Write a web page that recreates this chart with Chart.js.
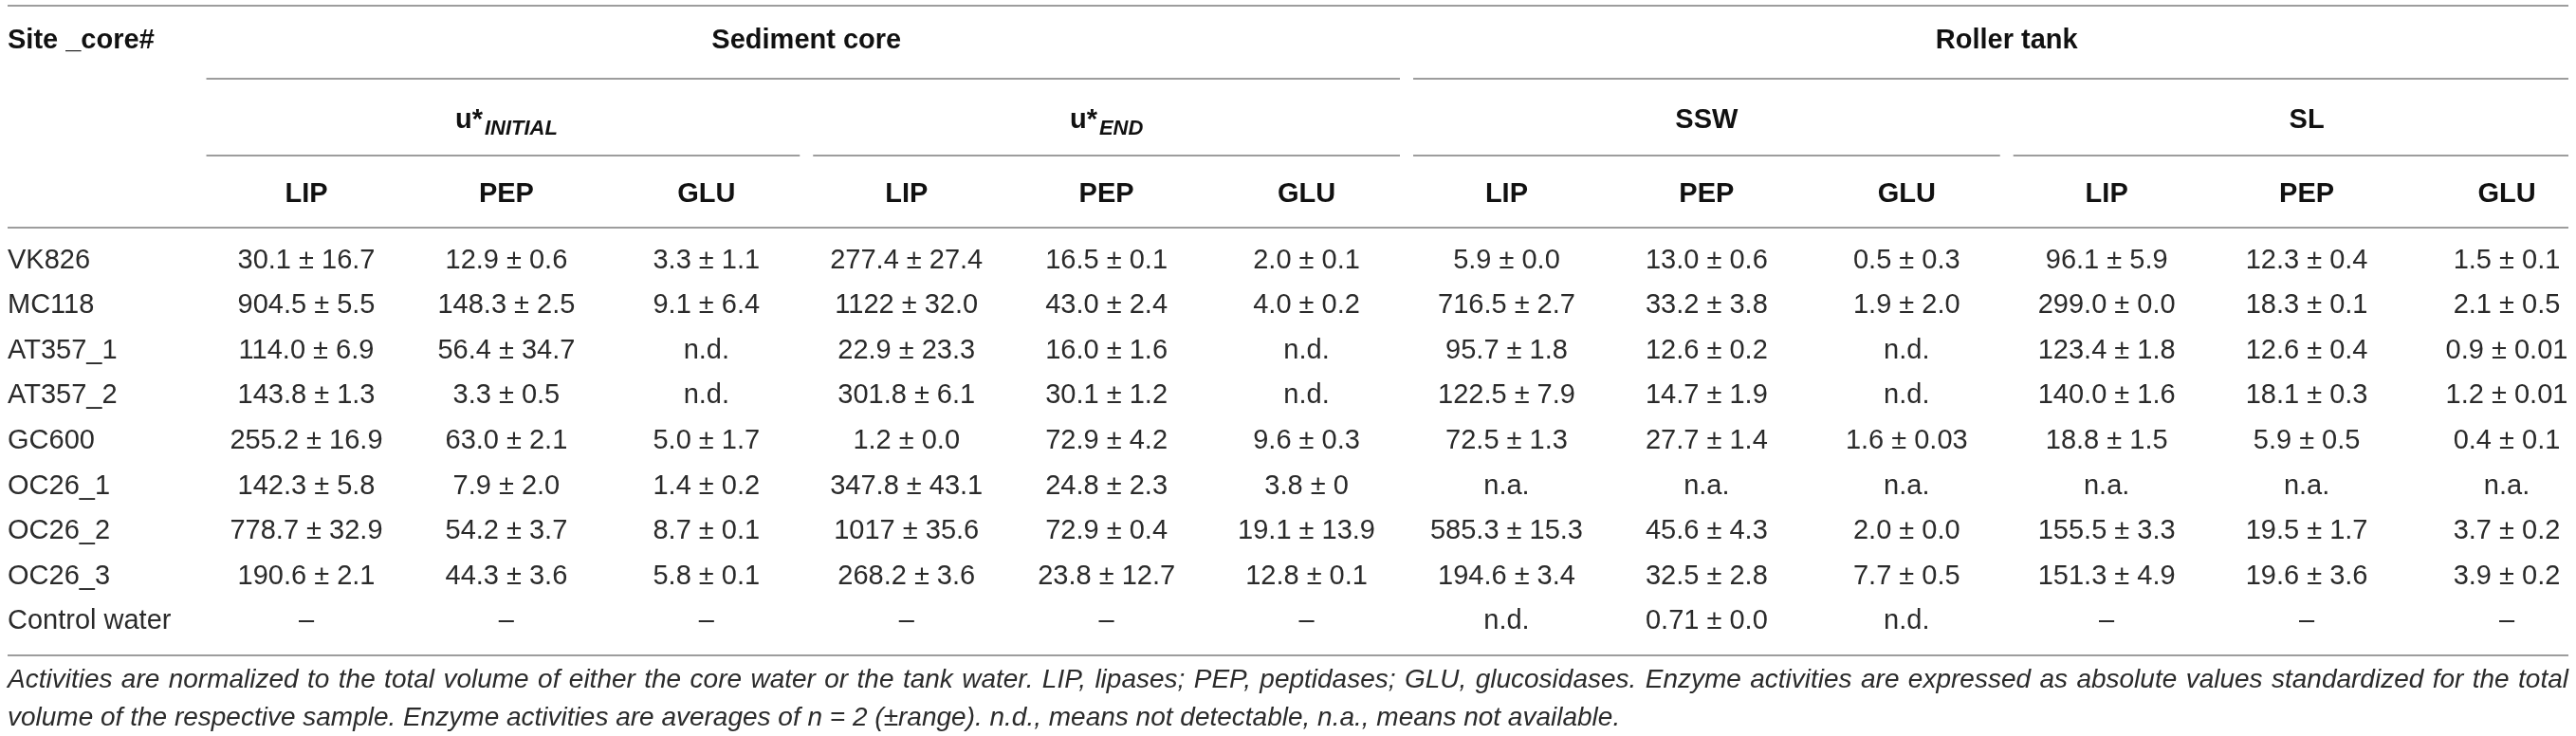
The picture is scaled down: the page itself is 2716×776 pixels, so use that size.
<!DOCTYPE html>
<html>
<head>
<meta charset="utf-8">
<script src="https://cdn.jsdelivr.net/npm/chart.js@4.4.1/dist/chart.umd.min.js"></script>
<style>
  html, body { margin: 0; padding: 0; background: #ffffff; }
  #wrap { width: 2716px; height: 776px; }
</style>
</head>
<body>
<div id="wrap"><canvas id="tableChart" width="2716" height="776"></canvas></div>
<script>
// ----------------------------------------------------------
// Datos de la tabla
// ----------------------------------------------------------
const siteHeader = "Site _core#";
const sites = ["VK826", "MC118", "AT357_1", "AT357_2", "GC600", "OC26_1", "OC26_2", "OC26_3", "Control water"];
const setupNames = ["Sediment core", "Roller tank"];
const treatmentNames = ["u*", "u*", "SSW", "SL"];
const treatmentSubs = ["INITIAL", "END", "", ""];
const enzymes = ["LIP", "PEP", "GLU"];

const initialLip = ["30.1 ± 16.7", "904.5 ± 5.5", "114.0 ± 6.9", "143.8 ± 1.3", "255.2 ± 16.9", "142.3 ± 5.8", "778.7 ± 32.9", "190.6 ± 2.1", "–"];
const initialPep = ["12.9 ± 0.6", "148.3 ± 2.5", "56.4 ± 34.7", "3.3 ± 0.5", "63.0 ± 2.1", "7.9 ± 2.0", "54.2 ± 3.7", "44.3 ± 3.6", "–"];
const initialGlu = ["3.3 ± 1.1", "9.1 ± 6.4", "n.d.", "n.d.", "5.0 ± 1.7", "1.4 ± 0.2", "8.7 ± 0.1", "5.8 ± 0.1", "–"];
const endLip = ["277.4 ± 27.4", "1122 ± 32.0", "22.9 ± 23.3", "301.8 ± 6.1", "1.2 ± 0.0", "347.8 ± 43.1", "1017 ± 35.6", "268.2 ± 3.6", "–"];
const endPep = ["16.5 ± 0.1", "43.0 ± 2.4", "16.0 ± 1.6", "30.1 ± 1.2", "72.9 ± 4.2", "24.8 ± 2.3", "72.9 ± 0.4", "23.8 ± 12.7", "–"];
const endGlu = ["2.0 ± 0.1", "4.0 ± 0.2", "n.d.", "n.d.", "9.6 ± 0.3", "3.8 ± 0", "19.1 ± 13.9", "12.8 ± 0.1", "–"];
const sswLip = ["5.9 ± 0.0", "716.5 ± 2.7", "95.7 ± 1.8", "122.5 ± 7.9", "72.5 ± 1.3", "n.a.", "585.3 ± 15.3", "194.6 ± 3.4", "n.d."];
const sswPep = ["13.0 ± 0.6", "33.2 ± 3.8", "12.6 ± 0.2", "14.7 ± 1.9", "27.7 ± 1.4", "n.a.", "45.6 ± 4.3", "32.5 ± 2.8", "0.71 ± 0.0"];
const sswGlu = ["0.5 ± 0.3", "1.9 ± 2.0", "n.d.", "n.d.", "1.6 ± 0.03", "n.a.", "2.0 ± 0.0", "7.7 ± 0.5", "n.d."];
const slLip = ["96.1 ± 5.9", "299.0 ± 0.0", "123.4 ± 1.8", "140.0 ± 1.6", "18.8 ± 1.5", "n.a.", "155.5 ± 3.3", "151.3 ± 4.9", "–"];
const slPep = ["12.3 ± 0.4", "18.3 ± 0.1", "12.6 ± 0.4", "18.1 ± 0.3", "5.9 ± 0.5", "n.a.", "19.5 ± 1.7", "19.6 ± 3.6", "–"];
const slGlu = ["1.5 ± 0.1", "2.1 ± 0.5", "0.9 ± 0.01", "1.2 ± 0.01", "0.4 ± 0.1", "n.a.", "3.7 ± 0.2", "3.9 ± 0.2", "–"];

const footnoteLines = [
    "Activities are normalized to the total volume of either the core water or the tank water. LIP, lipases; PEP, peptidases; GLU, glucosidases. Enzyme activities are expressed as absolute values standardized for the total",
    "volume of the respective sample. Enzyme activities are averages of n = 2 (±range). n.d., means not detectable, n.a., means not available."
];

// ----------------------------------------------------------
// Estilos y medidas del dibujo
// ----------------------------------------------------------
const FONT = '"Liberation Sans", Arial, Helvetica, sans-serif';
const FONT_SIZE = 29;
const TEXT_COLOR = "#2a2a2a";
const HEAD_COLOR = "#111111";
const RULE_COLOR = "#9d9d9d";
const RULE_WIDTH = 2;
const TOP_RULE_Y = 6;
const SETUP_TEXT_Y = 43;
const SETUP_RULE_Y = 83;
const TREAT_TEXT_Y = 127;
const TREAT_RULE_Y = 164;
const HEAD_RULE_GAP = 11;   // regla bajo LIP/PEP/GLU, por encima del área
const FOOT_RULE_GAP = 12;   // regla final, por debajo del área
const FOOT_LINE_1 = 38;     // distancia de las líneas de nota al área
const FOOT_LINE_2 = 78;
const SPAN_GAP = 7;
const EDGE = 8;

// Columnas: una por combinación tratamiento x enzima
const columns = [initialLip, initialPep, initialGlu, endLip, endPep, endGlu, sswLip, sswPep, sswGlu, slLip, slPep, slGlu];
const columnKeys = [];
treatmentNames.forEach((name, t) => {
    enzymes.forEach(enz => columnKeys.push(name + treatmentSubs[t] + " " + enz));
});

// Una celda = un punto del scatter (posición dada por las escalas)
const cells = [];
columns.forEach((col, c) => {
    col.forEach((txt, r) => cells.push({ x: columnKeys[c], y: sites[r], text: txt }));
});

// ----------------------------------------------------------
// Funciones de dibujo auxiliares
// ----------------------------------------------------------
function hRule(ctx, x1, x2, y) {
    ctx.beginPath();
    ctx.moveTo(x1, y);
    ctx.lineTo(x2, y);
    ctx.stroke();
}

// Línea justificada: reparte el espacio sobrante entre las palabras
function fillJustified(ctx, text, x1, x2, y) {
    const words = text.split(" ");
    const wordsWidth = words.reduce((s, w) => s + ctx.measureText(w).width, 0);
    const gap = (x2 - x1 - wordsWidth) / (words.length - 1);
    let x = x1;
    words.forEach(w => {
        ctx.fillText(w, x, y);
        x += ctx.measureText(w).width + gap;
    });
}

const tablePlugin = {
    id: "tableText",
    afterDatasetsDraw(chart) {
        const ctx = chart.ctx;
        const meta = chart.getDatasetMeta(0);
        ctx.save();
        ctx.font = FONT_SIZE + "px " + FONT;
        ctx.fillStyle = TEXT_COLOR;
        ctx.textAlign = "center";
        ctx.textBaseline = "middle";
        meta.data.forEach((pt, i) => {
            ctx.fillText(chart.data.datasets[0].data[i].text, pt.x, pt.y);
        });
        ctx.restore();
    },
    afterDraw(chart) {
        const ctx = chart.ctx;
        const xs = chart.scales.x;
        const area = chart.chartArea;
        const W = chart.width;
        const half = (xs.getPixelForValue(1) - xs.getPixelForValue(0)) / 2;
        const spanLeft = i => Math.max(EDGE, xs.getPixelForValue(i) - half);
        const spanRight = i => Math.min(W - EDGE, xs.getPixelForValue(i) + half);

        ctx.save();
        ctx.strokeStyle = RULE_COLOR;
        ctx.lineWidth = RULE_WIDTH;

        // Reglas completas
        hRule(ctx, EDGE, W - EDGE, TOP_RULE_Y);
        hRule(ctx, EDGE, W - EDGE, area.top - HEAD_RULE_GAP);
        hRule(ctx, EDGE, W - EDGE, area.bottom + FOOT_RULE_GAP);

        ctx.fillStyle = HEAD_COLOR;
        ctx.textBaseline = "middle";

        // Encabezado de sitio
        ctx.font = "bold " + FONT_SIZE + "px " + FONT;
        ctx.textAlign = "left";
        ctx.fillText(siteHeader, EDGE, SETUP_TEXT_Y);

        // Grupos: Sediment core / Roller tank (6 columnas cada uno)
        ctx.textAlign = "center";
        setupNames.forEach((name, g) => {
            const a = g * 6, b = g * 6 + 5;
            const x1 = spanLeft(a) + (g > 0 ? SPAN_GAP : 0);
            const x2 = spanRight(b) - (g < setupNames.length - 1 ? SPAN_GAP : 0);
            hRule(ctx, x1, x2, SETUP_RULE_Y);
            ctx.fillText(name, (xs.getPixelForValue(a) + xs.getPixelForValue(b)) / 2, SETUP_TEXT_Y);
        });

        // Tratamientos: u*INITIAL, u*END, SSW, SL (3 columnas cada uno)
        treatmentNames.forEach((name, t) => {
            const a = t * 3, b = t * 3 + 2;
            const x1 = spanLeft(a) + (t > 0 ? SPAN_GAP : 0);
            const x2 = spanRight(b) - (t < treatmentNames.length - 1 ? SPAN_GAP : 0);
            hRule(ctx, x1, x2, TREAT_RULE_Y);

            const cx = (xs.getPixelForValue(a) + xs.getPixelForValue(b)) / 2;
            const sub = treatmentSubs[t];
            const mainFont = "bold " + FONT_SIZE + "px " + FONT;
            const subFont = "italic bold 22px " + FONT;
            ctx.font = mainFont;
            const wMain = ctx.measureText(name).width;
            ctx.font = subFont;
            const wSub = sub ? ctx.measureText(sub).width + 2 : 0;
            const x0 = cx - (wMain + wSub) / 2;
            ctx.textAlign = "left";
            ctx.font = mainFont;
            ctx.fillText(name, x0, TREAT_TEXT_Y);
            if (sub) {
                ctx.font = subFont;
                ctx.fillText(sub, x0 + wMain + 2, TREAT_TEXT_Y + 9);
            }
        });

        // Nota al pie (primera línea justificada)
        ctx.fillStyle = "#2b2b2b";
        ctx.font = "italic 28px " + FONT;
        ctx.textAlign = "left";
        fillJustified(ctx, footnoteLines[0], EDGE, W - EDGE, area.bottom + FOOT_LINE_1);
        ctx.fillText(footnoteLines[1], EDGE, area.bottom + FOOT_LINE_2);
        ctx.restore();
    }
};

// ----------------------------------------------------------
// Creación del gráfico
// ----------------------------------------------------------
const ctx = document.getElementById("tableChart").getContext("2d");
new Chart(ctx, {
    type: "scatter",
    data: {
        datasets: [{
            data: cells,
            pointRadius: 0,
            pointHoverRadius: 0
        }]
    },
    options: {
        responsive: false,
        devicePixelRatio: 1,
        animation: false,
        events: [],
        layout: { padding: { left: EDGE, right: 73, top: 0, bottom: 97 } },
        plugins: {
            legend: { display: false },
            tooltip: { enabled: false }
        },
        scales: {
            x: {
                type: "category",
                labels: columnKeys,
                position: "top",
                offset: false,
                grid: { display: false, drawTicks: false },
                border: { display: false },
                afterFit: scale => { scale.height = 251; },
                ticks: {
                    autoSkip: false,
                    maxRotation: 0,
                    padding: 29,
                    color: HEAD_COLOR,
                    font: { family: FONT, size: FONT_SIZE, weight: "bold" },
                    callback: (val, i) => enzymes[i % enzymes.length]
                }
            },
            y: {
                type: "category",
                labels: sites,
                offset: true,
                grid: { display: false, drawTicks: false },
                border: { display: false },
                afterFit: scale => { scale.width = 315; },
                ticks: {
                    autoSkip: false,
                    crossAlign: "far",
                    padding: 0,
                    color: TEXT_COLOR,
                    font: { family: FONT, size: FONT_SIZE }
                }
            }
        }
    },
    plugins: [tablePlugin]
});
</script>
</body>
</html>
